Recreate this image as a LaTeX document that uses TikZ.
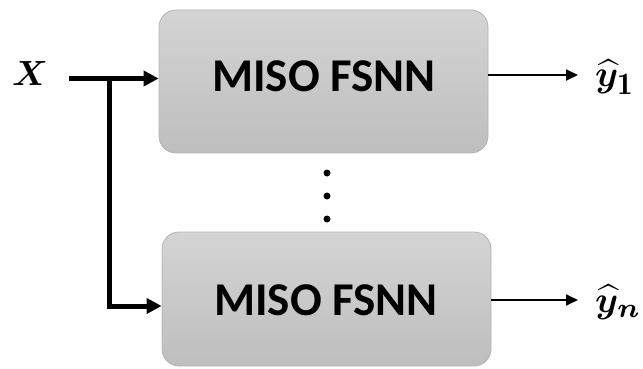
\documentclass[tikz,border=0pt]{standalone}
\usepackage{amsmath}
\usepackage{bm}
\usepackage{graphicx}
\usepackage{fontspec}
\newfontfamily\boxfont{Carlito}
\usetikzlibrary{arrows.meta}
\definecolor{boxtop}{HTML}{D4D4D4}
\definecolor{boxbot}{HTML}{BEBEBE}
\definecolor{boxline}{HTML}{B4B4B4}
\newcommand{\bigmath}[2][3.5]{\scalebox{#1}{$#2$}}
\newcommand{\bigsub}[2][1.2]{\scalebox{#1}{$\scriptstyle #2$}}
\tikzset{
  block/.style={draw=boxline, line width=0.8pt, rounded corners=17pt,
    top color=boxtop, bottom color=boxbot, minimum width=329pt},
  blocktext/.style={font=\boxfont\bfseries\fontsize{47}{50}\selectfont, inner sep=0pt},
  inarrow/.style={line width=5pt, -{Triangle[length=15pt,width=15pt]}},
  outarrow/.style={line width=1.8pt, -{Triangle[length=12pt,width=11pt]}},
  mlabel/.style={inner sep=0pt},
  dot/.style={fill=black, circle, inner sep=0pt, minimum size=7pt}
}
\begin{document}
\begin{tikzpicture}[x=1pt,y=-1pt]
\useasboundingbox (0,0) rectangle (643,369);
% the two MISO blocks
\node[block, minimum height=143pt] (b1) at (323.5,81.5) {};
\node[block, minimum height=134pt] (b2) at (326.5,299) {};
\node[blocktext] (t1) at (324,76.5) {MISO FSNN};
\node[blocktext] (t2) at (326,300) {MISO FSNN};
% vertical ellipsis between the blocks
\node[dot] (d1) at (327,173) {};
\node[dot] (d2) at (327,196) {};
\node[dot] (d3) at (327,219) {};
% input and its branching
\node[mlabel, anchor=base] (x) at (30,85) {\bigmath{\bm{X}}};
\coordinate (in) at (69,78.5);
\coordinate (br) at (109.5,78.5);
\coordinate (low) at (109.5,306);
\draw[inarrow] (in) -- (in -| b1.west);
\draw[line width=5pt] (br) -- (low);
\draw[inarrow] ([xshift=-2.5pt]low) -- (low -| b2.west);
% outputs
\node[mlabel, anchor=base west] (y1) at (595,87) {\bigmath[3.7]{\widehat{\bm{y}}_{\bigsub{\mathbf{1}}}}};
\node[mlabel, anchor=base west] (yn) at (595,312) {\bigmath[3.7]{\widehat{\bm{y}}_{\bigsub[1.05]{\bm{n}}}}};
\coordinate (o1) at (578,75);
\coordinate (on) at (578,300);
\draw[outarrow] (b1.east |- o1) -- (o1);
\draw[outarrow] (b2.east |- on) -- (on);
\end{tikzpicture}
\end{document}
